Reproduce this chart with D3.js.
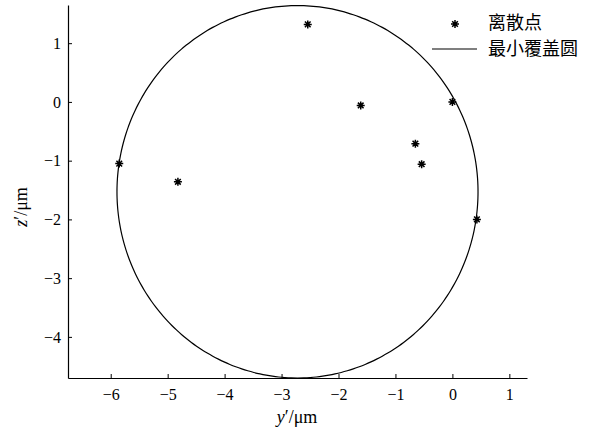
<!DOCTYPE html>
<html>
<head>
<meta charset="utf-8">
<script src="https://cdn.jsdelivr.net/npm/d3@7"></script>
<style>
    html, body { margin: 0; padding: 0; background: #ffffff; }
    svg { display: block; }
    svg text.serif { font-family: "Liberation Serif", serif; }
</style>
</head>
<body>
<svg id="chart" width="593" height="430"></svg>
<script>
/* ---------- data ---------- */

const pointY = [-5.85, -4.82, -2.54, -1.61, -0.65, -0.54, 0.0, 0.43];
const pointZ = [-1.05, -1.36, 1.32, -0.06, -0.71, -1.06, 0.0, -2.0];

// minimum covering circle: centre and radius
const circleCenter = [-2.72, -1.53];
const circleRadius = 3.17;

const xTicks = [-6, -5, -4, -3, -2, -1, 0, 1];
const yTicks = [-4, -3, -2, -1, 0, 1];

const legendLabels = ["离散点", "最小覆盖圆"];

/* ---------- layout ---------- */

const svg = d3.select("#chart");
const plotLeft = 68, plotRight = 527, plotTop = 5, plotBottom = 378;

const x = d3.scaleLinear().domain([-6.75, 1.31]).range([plotLeft, plotRight]);
const y = d3.scaleLinear().domain([-4.70, 1.65]).range([plotBottom, plotTop]);

const fmt = v => (v < 0 ? "\u2212" + Math.abs(v) : String(v));

/* ---------- axes (ticks point inward) ---------- */

const xAxis = svg.append("g")
    .attr("transform", `translate(0,${plotBottom})`)
    .call(d3.axisBottom(x).tickValues(xTicks).tickFormat(fmt).tickSizeInner(-4).tickSizeOuter(0).tickPadding(11));

const yAxis = svg.append("g")
    .attr("transform", `translate(${plotLeft},0)`)
    .call(d3.axisLeft(y).tickValues(yTicks).tickFormat(fmt).tickSizeInner(-4).tickSizeOuter(0).tickPadding(7));

[xAxis, yAxis].forEach(a => {
    a.attr("font-family", "Liberation Serif").attr("font-size", 16);
    a.select(".domain").attr("stroke", "#000").attr("stroke-width", 1.2);
    a.selectAll(".tick line").attr("stroke", "#000").attr("stroke-width", 1);
    a.selectAll(".tick text")
        .attr("class", "serif")
        .attr("fill", "#000")
        .attr("font-size", 16);
});

/* ---------- circle (drawn in data space) ---------- */

const angles = d3.range(0, 360, 2);
const circleLine = d3.line()
    .x(a => x(circleCenter[0] + circleRadius * Math.cos(a * Math.PI / 180)))
    .y(a => y(circleCenter[1] + circleRadius * Math.sin(a * Math.PI / 180)))
    .curve(d3.curveCardinalClosed);

svg.append("path")
    .datum(angles)
    .attr("d", circleLine)
    .attr("fill", "none")
    .attr("stroke", "#000")
    .attr("stroke-width", 1.2);

/* ---------- asterisk markers ---------- */

function starPath(cx, cy, r) {
    const d = r * Math.SQRT1_2;
    return `M${cx - r},${cy}L${cx + r},${cy}` +
           `M${cx},${cy - r}L${cx},${cy + r}` +
           `M${cx - d},${cy - d}L${cx + d},${cy + d}` +
           `M${cx - d},${cy + d}L${cx + d},${cy - d}`;
}

svg.append("g")
    .selectAll("path")
    .data(pointY)
    .join("path")
    .attr("d", (v, i) => starPath(x(v), y(pointZ[i]), 4))
    .attr("stroke", "#000")
    .attr("stroke-width", 1.5)
    .attr("fill", "none");

/* ---------- legend ---------- */

const legend = svg.append("g");
legend.append("path")
    .attr("d", starPath(455, 24, 4))
    .attr("stroke", "#000")
    .attr("stroke-width", 1.5);
legend.append("line")
    .attr("x1", 432).attr("x2", 477)
    .attr("y1", 49).attr("y2", 49)
    .attr("stroke", "#000")
    .attr("stroke-width", 1.2);
legend.selectAll("text")
    .data(legendLabels)
    .join("text")
    .attr("x", 488)
    .attr("y", (_, i) => 29 + i * 26)
    .attr("font-family", "Noto Sans CJK SC")
    .attr("font-size", 18)
    .attr("fill", "#000")
    .text(d => d);

/* ---------- axis titles ---------- */

const xTitle = svg.append("text")
    .attr("class", "serif")
    .attr("x", 297)
    .attr("y", 423)
    .attr("text-anchor", "middle")
    .attr("font-size", 18)
    .attr("fill", "#000");
xTitle.append("tspan").attr("font-style", "italic").text("y");
xTitle.append("tspan").text("\u2032/\u03bcm");

const yTitle = svg.append("text")
    .attr("class", "serif")
    .attr("transform", "translate(27,207) rotate(-90)")
    .attr("text-anchor", "middle")
    .attr("font-size", 18)
    .attr("fill", "#000");
yTitle.append("tspan").attr("font-style", "italic").text("z");
yTitle.append("tspan").text("\u2032/\u03bcm");
</script>
</body>
</html>
